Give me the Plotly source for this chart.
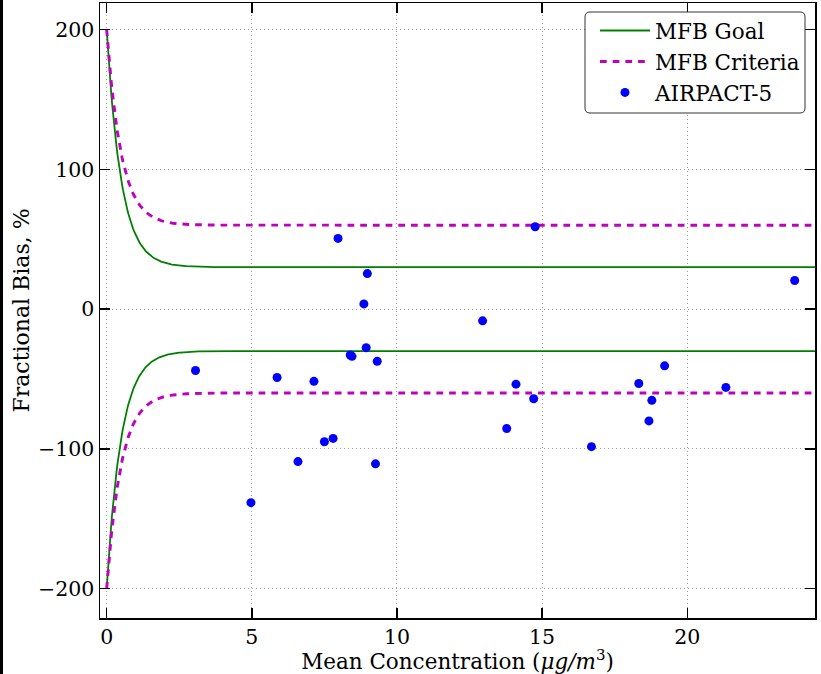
import numpy as np
import plotly.graph_objects as go

# ---- data ----
conc = [3.06, 4.97, 5.87, 6.59, 7.14, 7.50, 7.80, 7.97, 8.39, 8.45, 8.86, 8.98,
        8.94, 9.32, 9.26, 12.95, 13.78, 14.10, 14.71, 14.76, 16.70, 18.33,
        18.68, 18.78, 19.22, 21.33, 23.70]
mfb = [-43.9, -138.5, -48.9, -109.1, -51.7, -94.9, -92.5, 50.6, -32.8, -33.8,
       3.7, 25.4, -27.6, -37.3, -110.7, -8.4, -85.4, -53.7, -64.1, 58.9, -98.4,
       -53.2, -80.0, -65.3, -40.6, -56.0, 20.5]

goal_amp, goal_floor = 170, 30
crit_amp, crit_floor = 140, 60
decay = 2.0

x_ticks = [0, 5, 10, 15, 20]
y_ticks = [-200, -100, 0, 100, 200]
y_tick_text = ["\u2212200", "\u2212100", "0", "100", "200"]

xc = np.linspace(0, 25, 800)
goal = goal_amp * np.exp(-decay * xc) + goal_floor
crit = crit_amp * np.exp(-decay * xc) + crit_floor

GREEN = "#008000"
MAG = "#bf00bf"
BLUE = "#0000ff"
FONT = "DejaVu Serif"

fig = go.Figure()
fig.add_trace(go.Scatter(x=xc, y=goal, mode="lines", name="MFB Goal",
                         line=dict(color=GREEN, width=1.8), legendgroup="a"))
fig.add_trace(go.Scatter(x=xc, y=-goal, mode="lines", showlegend=False,
                         line=dict(color=GREEN, width=1.8), legendgroup="a"))
fig.add_trace(go.Scatter(x=xc, y=crit, mode="lines", name="MFB Criteria",
                         line=dict(color=MAG, width=2.9, dash="6.7px,6px"), legendgroup="b"))
fig.add_trace(go.Scatter(x=xc, y=-crit, mode="lines", showlegend=False,
                         line=dict(color=MAG, width=2.9, dash="6.7px,6px"), legendgroup="b"))
fig.add_trace(go.Scatter(x=conc, y=mfb, mode="markers", name="AIRPACT-5",
                         marker=dict(color=BLUE, size=9, line=dict(width=0)), legendgroup="c"))

W, H = 821, 674
L, R, T, B = 100, 6, 3, 56
pw, ph = W - L - R, H - T - B

def px(xp):
    return (xp - L) / pw

def py(yp):
    return 1 - (yp - T) / ph

# legend frame (rounded)
x0, x1, y0, y1 = px(585), px(805), py(12), py(113)
rx, ry = 5 / pw, 5 / ph
path = (f"M{x0+rx},{y0} L{x1-rx},{y0} Q{x1},{y0} {x1},{y0-ry} "
        f"L{x1},{y1+ry} Q{x1},{y1} {x1-rx},{y1} L{x0+rx},{y1} "
        f"Q{x0},{y1} {x0},{y1+ry} L{x0},{y0-ry} Q{x0},{y0} {x0+rx},{y0} Z")

shapes = [
    dict(type="path", xref="paper", yref="paper", path=path,
         fillcolor="white", line=dict(color="#333333", width=1), layer="above"),
    dict(type="rect", xref="paper", yref="paper", x0=px(0), x1=px(3),
         y0=py(H), y1=py(0), fillcolor="black", line=dict(width=0)),
]

axis_common = dict(
    automargin=False,
    showline=True, linecolor="black", linewidth=1.5, mirror="allticks",
    ticks="inside", ticklen=10, tickwidth=1.5, tickcolor="black",
    showgrid=True, gridcolor="#a0a0a0", gridwidth=1, griddash="1px,3px",
    zeroline=False, tickfont=dict(family=FONT, size=20.5, color="black"),
)

fig.update_layout(
    template="none",
    width=W, height=H,
    margin=dict(l=L, r=R, t=T, b=B, autoexpand=False),
    paper_bgcolor="white", plot_bgcolor="white",
    font=dict(family=FONT, size=20, color="black"),
    xaxis=dict(range=[-0.23, 24.4], tickvals=x_ticks,
               title=dict(text="Mean Concentration (<i>\u03bcg/m</i><sup>3</sup>)",
                          font=dict(family=FONT, size=21.5), standoff=8),
               **axis_common),
    yaxis=dict(range=[-221, 219], tickvals=y_ticks, ticktext=y_tick_text,
               title=dict(text="Fractional Bias, %", font=dict(family=FONT, size=22),
                          standoff=2),
               **axis_common),
    legend=dict(x=px(595), y=py(10), xanchor="left", yanchor="top",
                bgcolor="rgba(0,0,0,0)", borderwidth=0, itemwidth=50,
                font=dict(family=FONT, size=21.5), tracegroupgap=0),
    shapes=shapes,
    showlegend=True,
    hovermode=False,
)

fig.write_html("out.html",
               config={"displayModeBar": False, "staticPlot": True},
               post_script="document.body.style.margin='0px';"
                           "document.body.style.overflow='hidden';")
